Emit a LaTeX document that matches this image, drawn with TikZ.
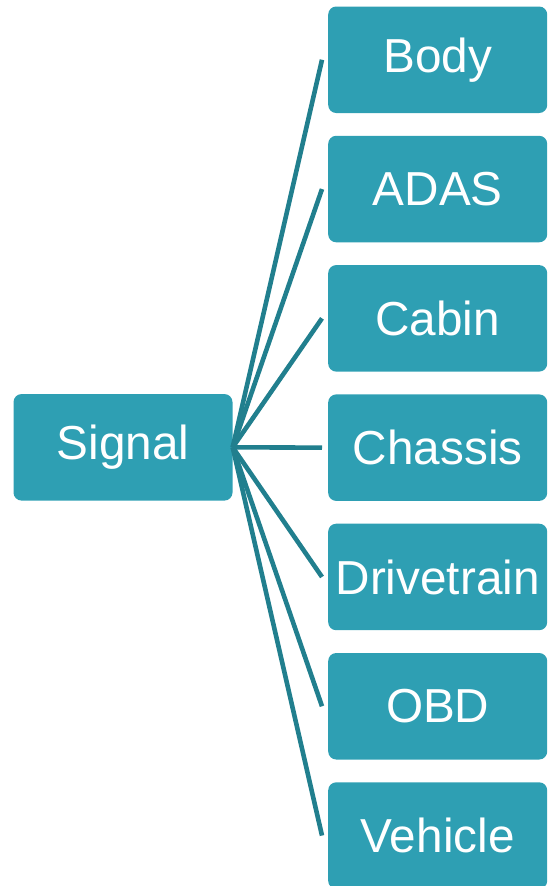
\documentclass[tikz,border=0pt]{standalone}
\usepackage{fontspec}
\setmainfont{Liberation Sans}
\definecolor{boxfill}{HTML}{2E9FB3}
\definecolor{linkcol}{HTML}{217F8E}
\begin{document}
\begin{tikzpicture}[x=1pt,y=-1pt,
  box/.style={fill=boxfill, rounded corners=8pt, minimum width=219pt, minimum height=106.5pt,
    inner sep=0pt, text=white, font=\fontsize{47.7}{52}\selectfont},
  link/.style={draw=linkcol, line width=4.6pt}]
\useasboundingbox (0,0) rectangle (547,886);
\begin{scope}
\clip (0,0) rectangle (547,886);
\node[box] (sig) at (123,447.3) {Signal};
\foreach \name/\label [count=\i from 0] in {body/Body,adas/ADAS,cabin/Cabin,chassis/Chassis,drive/Drivetrain,obd/OBD,veh/Vehicle}{
  \node[box, anchor=north west] (\name) at (328,6.3+129.3*\i) {\label};
  \coordinate (\name-in) at ([xshift=-6pt]\name.west);
  \draw[link] (sig.east) -- (\name-in);
}
\end{scope}
\end{tikzpicture}
\end{document}
